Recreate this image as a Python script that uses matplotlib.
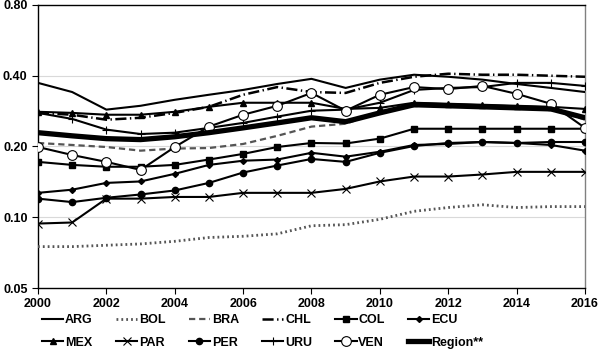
import matplotlib
matplotlib.use("Agg")
import matplotlib.pyplot as plt
from matplotlib.ticker import FixedLocator, NullLocator, FixedFormatter

plt.rcParams['font.family'] = ['Liberation Sans', 'DejaVu Sans']
plt.rcParams['font.weight'] = 'bold'
plt.rcParams['lines.scale_dashes'] = False

years = list(range(2000, 2017))

ARG = [0.373, 0.341, 0.287, 0.298, 0.316, 0.332, 0.348, 0.369, 0.388, 0.355, 0.385, 0.404, 0.396, 0.385, 0.369, 0.355, 0.341]
BOL = [0.075, 0.075, 0.076, 0.077, 0.079, 0.082, 0.083, 0.085, 0.092, 0.093, 0.098, 0.106, 0.110, 0.113, 0.110, 0.111, 0.111]
BRA = [0.207, 0.203, 0.199, 0.192, 0.196, 0.197, 0.205, 0.222, 0.243, 0.250, 0.280, 0.300, 0.300, 0.295, 0.290, 0.290, 0.260]
CHL = [0.278, 0.273, 0.260, 0.265, 0.278, 0.295, 0.332, 0.358, 0.341, 0.338, 0.373, 0.396, 0.408, 0.404, 0.404, 0.400, 0.396]
COL = [0.172, 0.167, 0.164, 0.164, 0.167, 0.176, 0.186, 0.199, 0.207, 0.206, 0.216, 0.238, 0.238, 0.238, 0.238, 0.238, 0.238]
ECU = [0.127, 0.131, 0.140, 0.142, 0.153, 0.167, 0.174, 0.176, 0.188, 0.181, 0.190, 0.203, 0.205, 0.209, 0.207, 0.203, 0.192]
MEX = [0.281, 0.278, 0.273, 0.273, 0.281, 0.295, 0.307, 0.307, 0.307, 0.289, 0.292, 0.307, 0.304, 0.301, 0.298, 0.295, 0.289]
PAR = [0.094, 0.095, 0.120, 0.120, 0.122, 0.122, 0.127, 0.127, 0.127, 0.132, 0.142, 0.149, 0.149, 0.152, 0.156, 0.156, 0.156]
PER = [0.120, 0.116, 0.121, 0.125, 0.130, 0.140, 0.155, 0.166, 0.177, 0.172, 0.188, 0.201, 0.207, 0.209, 0.207, 0.209, 0.209]
URU = [0.278, 0.262, 0.236, 0.226, 0.229, 0.240, 0.252, 0.268, 0.284, 0.287, 0.307, 0.348, 0.355, 0.358, 0.373, 0.373, 0.362]
VEN = [0.199, 0.184, 0.172, 0.159, 0.199, 0.243, 0.273, 0.298, 0.338, 0.284, 0.332, 0.358, 0.351, 0.362, 0.335, 0.304, 0.240]
REGION = [0.229, 0.222, 0.216, 0.214, 0.220, 0.229, 0.240, 0.252, 0.265, 0.255, 0.278, 0.301, 0.298, 0.295, 0.292, 0.289, 0.265]

ytick_vals = [0.05, 0.10, 0.20, 0.40, 0.80]
ytick_labels = ["0.05", "0.10", "0.20", "0.40", "0.80"]
xtick_vals = list(range(2000, 2017, 2))

fig = plt.figure(figsize=(6.0, 3.56), dpi=100)
ax = fig.add_axes([0.0633, 0.191, 0.9117, 0.795])

lw = 1.5
series = [
    ("ARG", ARG, dict(color='black', lw=lw, ls='-')),
    ("BOL", BOL, dict(color='#555555', lw=2.0, ls=(0, (1.3, 2.2)))),
    ("BRA", BRA, dict(color='#555555', lw=1.6, ls=(0, (4.5, 2.8)))),
    ("CHL", CHL, dict(color='black', lw=1.8, ls=(0, (8, 2.5, 1, 2.5)))),
    ("COL", COL, dict(color='black', lw=lw, ls='-', marker='s', ms=4.5, mfc='black')),
    ("ECU", ECU, dict(color='black', lw=lw, ls='-', marker='D', ms=3, mfc='black')),
    ("MEX", MEX, dict(color='black', lw=lw, ls='-', marker='^', ms=4.5, mfc='black')),
    ("PAR", PAR, dict(color='black', lw=lw, ls='-', marker='x', ms=6, mew=0.8)),
    ("PER", PER, dict(color='black', lw=lw, ls='-', marker='o', ms=4.5, mfc='black')),
    ("URU", URU, dict(color='black', lw=lw, ls='-', marker='+', ms=6, mew=0.8)),
    ("VEN", VEN, dict(color='black', lw=lw, ls='-', marker='o', ms=7, mfc='white', mew=0.8)),
    ("Region**", REGION, dict(color='black', lw=3.8, ls='-')),
]

handles = {}
for name, vals, kw in series:
    h, = ax.plot(years, vals, label=name, zorder=3, **kw)
    handles[name] = h

ax.set_yscale('log')
ax.set_ylim(0.05, 0.80)
ax.set_xlim(2000, 2016)
ax.yaxis.set_major_locator(FixedLocator(ytick_vals))
ax.yaxis.set_major_formatter(FixedFormatter(ytick_labels))
ax.yaxis.set_minor_locator(NullLocator())
ax.xaxis.set_major_locator(FixedLocator(xtick_vals))
ax.set_xticklabels([str(y) for y in xtick_vals])

for v in ytick_vals[1:4]:
    ax.axhline(v, color='#d9d9d9', lw=0.8, zorder=1)

ax.tick_params(axis='both', which='major', labelsize=9, length=4, width=0.8,
               direction='out', color='black')
for lab in ax.get_xticklabels() + ax.get_yticklabels():
    lab.set_fontweight('bold')

ax.spines['left'].set_color('black')
ax.spines['bottom'].set_color('black')
ax.spines['top'].set_color('black')
ax.spines['right'].set_color('#808080')
for s in ax.spines.values():
    s.set_linewidth(1.0)

order = ["ARG", "MEX", "BOL", "PAR", "BRA", "PER", "CHL", "URU", "COL", "VEN", "ECU", "Region**"]
leg = fig.legend([handles[n] for n in order], order, ncol=6, loc='upper left',
                 bbox_to_anchor=(0.07, 0.118), frameon=False,
                 prop={'size': 9, 'weight': 'bold'}, handlelength=1.7,
                 handletextpad=0.15, columnspacing=1.85, labelspacing=0.85,
                 borderaxespad=0, borderpad=0)

fig.savefig("out.png", dpi=100)
